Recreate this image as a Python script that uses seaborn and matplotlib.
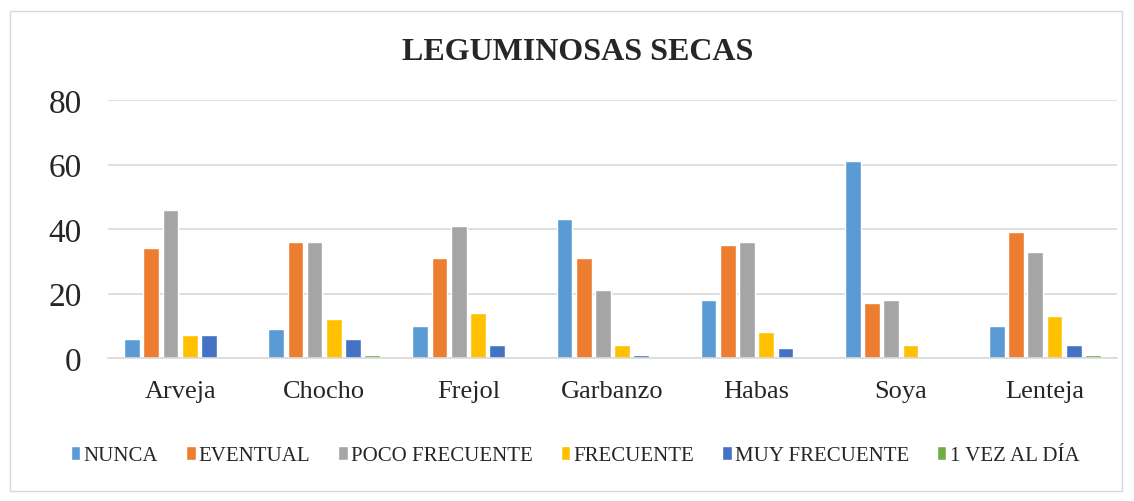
import pandas as pd
import matplotlib.pyplot as plt
import seaborn as sns
from matplotlib.patches import Rectangle

categorias = ["Arveja", "Chocho", "Frejol", "Garbanzo", "Habas", "Soya", "Lenteja"]
series = ["NUNCA", "EVENTUAL", "POCO FRECUENTE", "FRECUENTE", "MUY FRECUENTE", "1 VEZ AL DÍA"]

nunca = [6, 9, 10, 43, 18, 61, 10]
eventual = [34, 36, 31, 31, 35, 17, 39]
poco_frecuente = [46, 36, 41, 21, 36, 18, 33]
frecuente = [7, 12, 14, 4, 8, 4, 13]
muy_frecuente = [7, 6, 4, 1, 3, 0, 4]
una_vez_dia = [0, 1, 0, 0, 0, 0, 1]

colores = ["#5B9BD5", "#ED7D31", "#A5A5A5", "#FFC000", "#4472C4", "#70AD47"]

valores = [nunca, eventual, poco_frecuente, frecuente, muy_frecuente, una_vez_dia]
rows = []
for s, vals in zip(series, valores):
    for c, v in zip(categorias, vals):
        rows.append({"categoria": c, "serie": s, "valor": v})
df = pd.DataFrame(rows)

sns.set_style("white")
plt.rcParams["font.family"] = ["Liberation Serif", "DejaVu Serif"]

fig = plt.figure(figsize=(11.34, 5.02), dpi=100)
ax = fig.add_axes([108 / 1134, 1 - 359 / 502, 1009 / 1134, 258 / 502])

sns.barplot(data=df, x="categoria", y="valor", hue="serie", order=categorias,
            hue_order=series, palette=colores, width=0.8, gap=0.18,
            saturation=1, ax=ax, legend=True)

ax.set_ylim(0, 80)
ax.set_yticks([0, 20, 40, 60, 80])
ax.yaxis.grid(True, color="#D9D9D9", linewidth=1.2)
ax.set_axisbelow(True)
for sp in ["top", "right", "left"]:
    ax.spines[sp].set_visible(False)
ax.spines["bottom"].set_color("#D9D9D9")
ax.spines["bottom"].set_linewidth(1.2)
ax.tick_params(axis="y", length=0, labelsize=24, pad=19)
ax.tick_params(axis="x", length=0, labelsize=19, pad=16)
ax.set_xlabel("")
ax.set_ylabel("")

leg = ax.legend(loc="upper center", bbox_to_anchor=(0.463, -0.27), ncol=6, frameon=False,
                fontsize=15, handlelength=0.45, handleheight=0.6, handletextpad=0.15,
                columnspacing=1.35)

fig.text(578 / 1134, 1 - 52 / 502, "LEGUMINOSAS SECAS", ha="center", va="center",
         fontsize=23, fontweight="bold")

fig.patches.append(Rectangle((10 / 1134, 1 - 492 / 502), 1112 / 1134, 480 / 502,
                             transform=fig.transFigure, fill=False,
                             edgecolor="#D9D9D9", linewidth=1))

fig.savefig("out.png", dpi=100)
